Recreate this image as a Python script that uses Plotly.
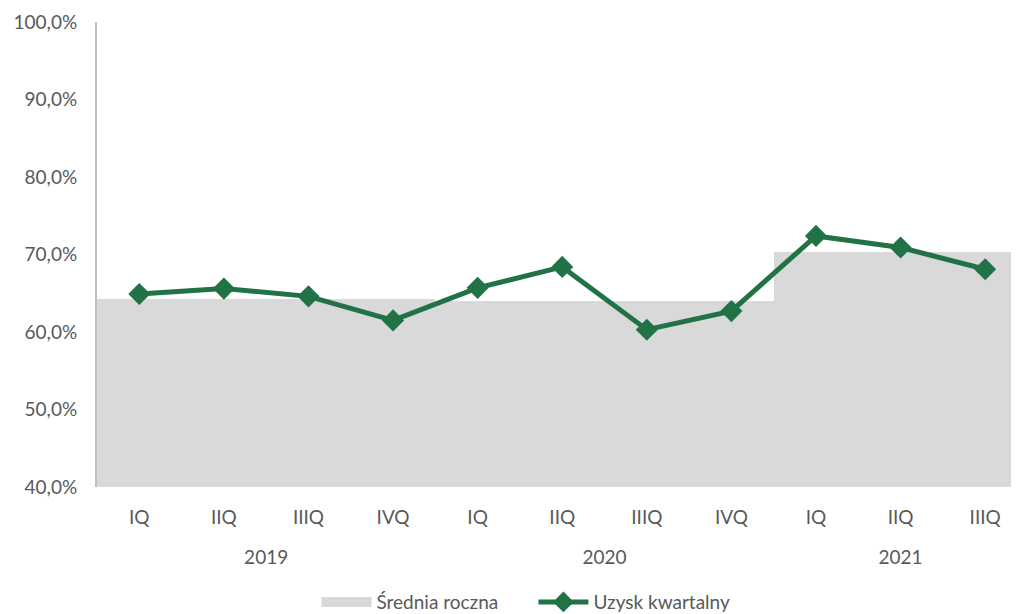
import plotly.graph_objects as go

years = ["2019", "2019", "2019", "2019", "2020", "2020", "2020", "2020", "2021", "2021", "2021"]
quarters = ["IQ", "IIQ", "IIIQ", "IVQ", "IQ", "IIQ", "IIIQ", "IVQ", "IQ", "IIQ", "IIIQ"]
quarterly = [64.9, 65.6, 64.6, 61.5, 65.7, 68.4, 60.3, 62.7, 72.4, 70.9, 68.1]
annual_avg = [64.2, 64.2, 64.2, 64.2, 64.0, 64.0, 64.0, 64.0, 70.3, 70.3, 70.3]

GRAY = "#d9d9d9"
GREEN = "#217346"
TEXT = "#595959"
FONT = "Lato, Open Sans, Liberation Sans, sans-serif"

idx = list(range(len(quarters)))
year_labels = list(dict.fromkeys(years))
year_centers = [sum(i for i, y in zip(idx, years) if y == yl) / years.count(yl) for yl in year_labels]

base = 40
fig = go.Figure()
fig.add_trace(go.Bar(
    x=idx, y=[v - base for v in annual_avg], base=base, xaxis="x",
    name="Średnia roczna", marker=dict(color=GRAY, line=dict(width=0)),
    width=1.0, hoverinfo="skip", showlegend=False,
))
# legend entry for the average band (wide grey swatch)
fig.add_trace(go.Scatter(
    x=[None], y=[None], name="Średnia roczna", mode="lines",
    line=dict(color=GRAY, width=13),
))
fig.add_trace(go.Scatter(
    x=idx, y=quarterly, name="Uzysk kwartalny", xaxis="x2",
    mode="lines+markers",
    line=dict(color=GREEN, width=5),
    marker=dict(symbol="diamond", size=17, color=GREEN),
))

rng = [-0.5, 10.4]
fs = 19
fig.update_layout(
    width=1011, height=606,
    margin=dict(l=89, r=0, t=14, b=127),
    plot_bgcolor="white", paper_bgcolor="white",
    separators=", ",
    bargap=0,
    font=dict(family=FONT, size=fs, color=TEXT),
    showlegend=True,
    legend=dict(orientation="h", x=0.238, xanchor="left",
                yref="container", y=0.051, yanchor="top",
                font=dict(size=19, color=TEXT), itemwidth=50, entrywidth=152,
                traceorder="normal"),
    xaxis=dict(range=rng, tickmode="array", tickvals=idx, ticktext=quarters,
               showgrid=False, showline=False, zeroline=False, ticks="",
               automargin=False, ticklabelstandoff=17,
               tickfont=dict(family=FONT, size=fs, color=TEXT)),
    xaxis2=dict(overlaying="x", anchor="y", side="bottom", range=rng,
                tickmode="array", tickvals=year_centers, ticktext=year_labels,
                showgrid=False, showline=False, zeroline=False, ticks="",
                automargin=False, ticklabelstandoff=57,
                tickfont=dict(family=FONT, size=fs, color=TEXT)),
    yaxis=dict(range=[40, 100], dtick=10, tickformat=".1f", ticksuffix="%",
               showgrid=False, zeroline=False, showline=True,
               linecolor="#bfbfbf", linewidth=2, ticks="", automargin=False,
               ticklabelstandoff=14,
               tickfont=dict(family=FONT, size=fs, color=TEXT)),
)
fig.write_html("out.html")
